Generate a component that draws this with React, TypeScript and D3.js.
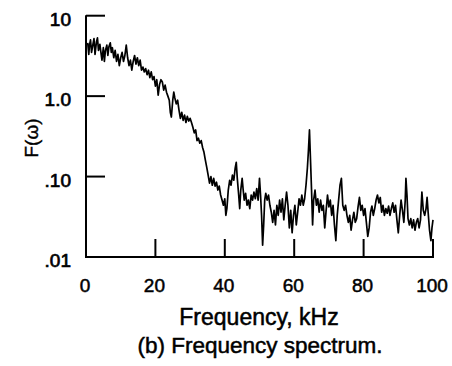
import React from "react";
import * as d3 from "d3";

const freqKHz = [
  0.5, 0.8, 1.0, 1.3, 1.6, 2.0, 2.3, 2.6, 3.0, 3.3, 3.6, 4.0, 4.3, 4.6, 5.0, 5.3, 5.6, 6.0, 6.3, 6.6,
  7.0, 7.3, 7.6, 8.0, 8.4, 8.8, 9.2, 9.6, 10.0, 10.4, 10.8, 11.2, 11.6, 12.0, 12.4, 12.8, 13.2, 13.6, 14.0, 14.4,
  14.8, 15.2, 15.6, 16.0, 16.4, 16.8, 17.2, 17.6, 18.0, 18.4, 18.8, 19.2, 19.6, 20.0, 20.4, 20.8, 21.2, 21.6, 22.0, 22.4,
  22.8, 23.2, 23.6, 24.0, 24.3, 24.6, 25.0, 25.3, 25.6, 26.0, 26.4, 26.8, 27.2, 27.6, 28.0, 28.4, 28.8, 29.2, 29.6, 30.0,
  30.4, 30.8, 31.2, 31.6, 32.0, 32.4, 32.8, 33.2, 33.6, 34.0, 34.4, 34.8, 35.2, 35.6, 36.0, 36.4, 36.8, 37.2, 37.6, 38.0,
  38.4, 38.8, 39.2, 39.6, 40.0, 40.3, 40.6, 41.0, 41.4, 41.8, 42.2, 42.6, 43.0, 43.3, 43.6, 44.0, 44.3, 44.6, 45.0, 45.3,
  45.6, 46.0, 46.4, 46.8, 47.2, 47.6, 48.0, 48.4, 48.8, 49.2, 49.6, 50.0, 50.3, 50.6, 50.9, 51.2, 51.5, 51.8, 52.2, 52.6,
  53.0, 53.4, 53.8, 54.2, 54.6, 55.0, 55.4, 55.8, 56.2, 56.6, 57.0, 57.4, 57.8, 58.2, 58.6, 59.0, 59.4, 59.8, 60.2, 60.6,
  61.0, 61.4, 61.8, 62.2, 62.6, 63.0, 63.4, 63.8, 64.1, 64.4, 64.7, 65.0, 65.3, 65.6, 66.0, 66.4, 66.8, 67.2, 67.6, 68.0,
  68.4, 68.8, 69.2, 69.6, 70.0, 70.4, 70.8, 71.2, 71.6, 72.0, 72.4, 72.8, 73.2, 73.6, 74.0, 74.4, 74.8, 75.2, 75.6, 76.0,
  76.4, 76.8, 77.2, 77.6, 78.0, 78.4, 78.8, 79.2, 79.6, 80.0, 80.4, 80.8, 81.2, 81.6, 82.0, 82.4, 82.8, 83.2, 83.6, 84.0,
  84.4, 84.8, 85.2, 85.6, 86.0, 86.4, 86.8, 87.2, 87.6, 88.0, 88.4, 88.8, 89.2, 89.6, 90.0, 90.4, 90.8, 91.2, 91.6, 92.0,
  92.2, 92.5, 92.8, 93.2, 93.6, 94.0, 94.4, 94.8, 95.2, 95.6, 96.0, 96.4, 96.8, 97.2, 97.6, 98.0, 98.3, 98.6, 99.0, 99.4,
  99.7, 100.0,
];

const spectrum = [
  4.6, 3.3, 4.3, 5.0, 3.5, 4.4, 5.2, 3.3, 4.7, 5.3, 3.7, 4.4, 3.5, 2.8, 4.0, 2.7, 3.7, 4.3, 3.2, 4.1,
  4.6, 3.5, 4.0, 3.0, 3.7, 2.7, 3.3, 2.4, 3.0, 3.5, 2.7, 3.2, 4.3, 3.0, 2.4, 2.8, 2.1, 2.7, 3.2, 2.5,
  3.0, 2.4, 2.8, 2.1, 2.3, 2.0, 2.2, 1.85, 2.1, 1.7, 2.0, 1.6, 1.75, 1.33, 1.6, 1.03, 1.4, 1.6, 1.5, 1.19,
  1.37, 1.12, 1.0, 0.89, 0.63, 0.55, 0.89, 1.12, 0.95, 0.8, 0.89, 0.67, 0.53, 0.63, 0.5, 0.58, 0.47, 0.56, 0.49, 0.53,
  0.47, 0.41, 0.35, 0.38, 0.28, 0.30, 0.26, 0.28, 0.23, 0.20, 0.16, 0.13, 0.104, 0.083, 0.1, 0.078, 0.095, 0.076, 0.085, 0.068,
  0.076, 0.059, 0.051, 0.044, 0.053, 0.033, 0.040, 0.068, 0.090, 0.078, 0.104, 0.09, 0.128, 0.15, 0.095, 0.059, 0.040, 0.068, 0.095, 0.068,
  0.051, 0.062, 0.044, 0.051, 0.040, 0.059, 0.051, 0.064, 0.053, 0.071, 0.051, 0.095, 0.059, 0.033, 0.014, 0.025, 0.051, 0.062, 0.051, 0.059,
  0.044, 0.036, 0.027, 0.038, 0.025, 0.044, 0.033, 0.051, 0.036, 0.053, 0.029, 0.044, 0.064, 0.044, 0.023, 0.038, 0.020, 0.033, 0.044, 0.025,
  0.036, 0.053, 0.044, 0.059, 0.044, 0.053, 0.078, 0.128, 0.21, 0.38, 0.16, 0.068, 0.025, 0.051, 0.068, 0.044, 0.053, 0.036, 0.051, 0.038,
  0.044, 0.023, 0.038, 0.059, 0.042, 0.051, 0.033, 0.044, 0.025, 0.016, 0.033, 0.051, 0.078, 0.095, 0.044, 0.038, 0.044, 0.033, 0.027, 0.033,
  0.0215, 0.029, 0.036, 0.027, 0.030, 0.042, 0.055, 0.038, 0.044, 0.033, 0.040, 0.027, 0.018, 0.023, 0.036, 0.043, 0.033, 0.040, 0.051, 0.059,
  0.047, 0.055, 0.036, 0.044, 0.033, 0.040, 0.035, 0.043, 0.033, 0.040, 0.047, 0.036, 0.044, 0.029, 0.020, 0.033, 0.051, 0.038, 0.027, 0.051,
  0.095, 0.059, 0.030, 0.025, 0.030, 0.023, 0.029, 0.0215, 0.027, 0.030, 0.023, 0.029, 0.064, 0.038, 0.033, 0.040, 0.055, 0.036, 0.0215, 0.016,
  0.023, 0.029,
];

const xTicks = [0, 20, 40, 60, 80, 100];
const yTicks = [0.01, 0.1, 1, 10];
const yTickLabels = [".01", ".10", "1.0", "10"];

const W = 452;
const H = 366;
const FONT = "'Liberation Sans', Arial, Helvetica, sans-serif";

export default function App() {
  const x = d3.scaleLinear().domain([0, 100]).range([86, 433]);
  const y = d3.scaleLog().domain([0.01, 10]).range([257, 15.7]);
  const pts = freqKHz.map((f, i) => [f, spectrum[i]] as [number, number]);
  const line = d3
    .line<[number, number]>()
    .x((d) => x(d[0]))
    .y((d) => y(d[1]));

  const x0 = x(0);
  const y0 = y(0.01);

  return (
    <div style={{ position: "absolute", left: 0, top: 0 }}>
      <svg width={W} height={H} style={{ display: "block", background: "#fff" }}>
        {/* axes */}
        <line x1={x0} x2={x0} y1={y(10) - 0.5} y2={y0 + 1} stroke="#000" strokeWidth={2} />
        <line x1={x0 - 1} x2={x(100) + 1} y1={y0} y2={y0} stroke="#000" strokeWidth={2} />
        {yTicks.map((t) => (
          <line key={"yt" + t} x1={x0} x2={x0 + 19} y1={y(t)} y2={y(t)} stroke="#000" strokeWidth={2} />
        ))}
        {xTicks.map((t) => (
          <line key={"xt" + t} x1={x(t)} x2={x(t)} y1={y0} y2={y0 - 18} stroke="#000" strokeWidth={2} />
        ))}
        {/* data */}
        <path d={line(pts) || ""} fill="none" stroke="#000" strokeWidth={1.7} strokeLinejoin="round" />
        {/* y tick labels */}
        {yTicks.map((t, i) => (
          <text
            key={"yl" + t}
            x={71}
            y={y(t) + 10}
            textAnchor="end"
            fontFamily={FONT}
            fontSize={19}
            fill="#000"
            stroke="#000"
            strokeWidth={0.7}
          >
            {yTickLabels[i]}
          </text>
        ))}
        {/* x tick labels */}
        {xTicks.map((t) => (
          <text
            key={"xl" + t}
            x={x(t) - 1}
            y={292}
            textAnchor="middle"
            fontFamily={FONT}
            fontSize={19}
            fill="#000"
            stroke="#000"
            strokeWidth={0.5}
          >
            {t}
          </text>
        ))}
        {/* y axis label */}
        <text
          transform={`translate(38,138) rotate(-90)`}
          textAnchor="middle"
          fontFamily={FONT}
          fontSize={19}
          fill="#000"
          stroke="#000"
          strokeWidth={0.4}
        >
          F(ω)
        </text>
        <text
          x={259}
          y={325}
          textAnchor="middle"
          fontFamily={FONT}
          fontSize={23}
          fill="#000"
          stroke="#000"
          strokeWidth={0.5}
        >
          Frequency, kHz
        </text>
        <text
          x={260}
          y={353}
          textAnchor="middle"
          fontFamily={FONT}
          fontSize={22.5}
          fill="#000"
          stroke="#000"
          strokeWidth={0.5}
        >
          (b) Frequency spectrum.
        </text>
      </svg>
    </div>
  );
}
